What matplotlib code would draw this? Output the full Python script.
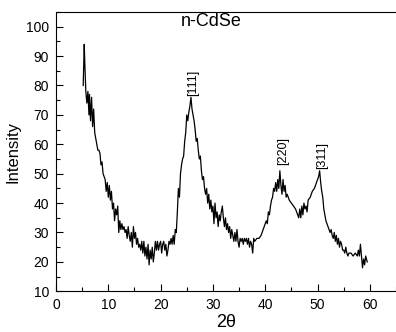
import matplotlib
matplotlib.use('Agg')
import matplotlib.pyplot as plt
from matplotlib.ticker import MultipleLocator

plt.rcParams['font.family'] = ['Liberation Sans', 'DejaVu Sans']

# XRD pattern (2theta, intensity)
two_theta = [5.2, 5.4, 5.5, 5.7, 5.9, 6.1, 6.3, 6.4, 6.6, 6.8, 7.0, 7.2, 7.4, 7.6, 7.8,
             8.0, 8.2, 8.4, 8.6, 8.8, 9.0, 9.2, 9.4, 9.6, 9.8, 10.0, 10.2, 10.4, 10.6, 10.8,
             11.0, 11.2, 11.4, 11.6, 11.8, 12.0, 12.2, 12.4, 12.6, 12.8, 13.0, 13.2, 13.4, 13.6, 13.8,
             14.0, 14.2, 14.4, 14.6, 14.8, 15.0, 15.2, 15.4, 15.6, 15.8, 16.0, 16.2, 16.4, 16.6, 16.8,
             17.0, 17.2, 17.4, 17.6, 17.8, 18.0, 18.2, 18.4, 18.6, 18.8, 19.0, 19.2, 19.4, 19.6, 19.8,
             20.0, 20.2, 20.4, 20.6, 20.8, 21.0, 21.2, 21.4, 21.6, 21.8, 22.0, 22.2, 22.4, 22.6, 22.8,
             23.0, 23.2, 23.4, 23.6, 23.8, 24.0, 24.2, 24.4, 24.6, 24.8, 25.0, 25.2, 25.4, 25.6, 25.8,
             26.0, 26.2, 26.4, 26.6, 26.8, 27.0, 27.2, 27.4, 27.6, 27.8, 28.0, 28.2, 28.4, 28.6, 28.8,
             29.0, 29.2, 29.4, 29.6, 29.8, 30.0, 30.2, 30.4, 30.6, 30.8, 31.0, 31.2, 31.4, 31.6, 31.8,
             32.0, 32.2, 32.4, 32.6, 32.8, 33.0, 33.2, 33.4, 33.6, 33.8, 34.0, 34.2, 34.4, 34.6, 34.8,
             35.0, 35.2, 35.4, 35.6, 35.8, 36.0, 36.2, 36.4, 36.6, 36.8, 37.0, 37.2, 37.4, 37.6, 37.8,
             38.0, 38.4, 38.8, 39.2, 39.6, 40.0, 40.2, 40.4, 40.6, 40.8, 41.0, 41.2, 41.4, 41.6, 41.8,
             42.0, 42.2, 42.4, 42.6, 42.8, 43.0, 43.2, 43.4, 43.6, 43.8, 44.0, 44.2, 44.6, 45.0, 45.4,
             45.8, 46.2, 46.4, 46.6, 46.8, 47.0, 47.2, 47.4, 47.6, 47.8, 48.0, 48.2, 48.6, 49.0, 49.4,
             49.8, 50.0, 50.2, 50.4, 50.6, 50.8, 51.0, 51.2, 51.4, 51.6, 51.8, 52.0, 52.2, 52.4, 52.6,
             52.8, 53.0, 53.2, 53.4, 53.6, 53.8, 54.0, 54.2, 54.4, 54.6, 54.8, 55.0, 55.2, 55.4, 55.6,
             55.8, 56.0, 56.4, 56.8, 57.2, 57.6, 57.8, 58.0, 58.2, 58.4, 58.6, 58.8, 59.0, 59.2, 59.5]
intensity = [80, 94, 88, 78, 74, 78, 70, 77, 68, 76, 66, 72, 64, 62, 60,
             58, 58, 57, 53, 54, 50, 49, 48, 44, 47, 42, 46, 41, 44, 38,
             40, 34, 38, 36, 39, 30, 34, 31, 33, 31, 32, 30, 31, 28, 32,
             29, 27, 30, 25, 32, 28, 30, 26, 28, 25, 26, 24, 27, 23, 27,
             22, 25, 21, 26, 19, 24, 21, 25, 20, 23, 27, 24, 27, 24, 26,
             27, 23, 26, 27, 24, 26, 22, 24, 27, 26, 28, 26, 29, 26, 31,
             30, 37, 45, 42, 50, 53, 55, 56, 61, 64, 70, 68, 71, 73, 76,
             72, 70, 68, 65, 61, 62, 58, 55, 56, 51, 48, 49, 45, 43, 45,
             40, 43, 38, 41, 37, 39, 33, 40, 35, 37, 32, 36, 34, 37, 39,
             35, 32, 35, 31, 33, 30, 32, 28, 31, 29, 27, 30, 27, 31, 27,
             25, 28, 27, 28, 26, 28, 27, 28, 26, 28, 25, 27, 26, 23, 28,
             27, 28, 28, 29, 31, 33, 34, 33, 37, 36, 39, 41, 42, 45, 44,
             47, 44, 48, 45, 51, 46, 43, 48, 44, 46, 42, 43, 41, 40, 39,
             38, 36, 35, 38, 35, 39, 36, 40, 38, 39, 37, 41, 42, 44, 45,
             47, 48, 49, 51, 47, 44, 42, 38, 36, 34, 33, 32, 31, 30, 31,
             29, 28, 30, 27, 29, 26, 28, 25, 27, 26, 24, 24, 23, 25, 23,
             22, 23, 23, 22, 23, 22, 24, 22, 26, 22, 18, 21, 19, 22, 20]

peak_labels = ['[111]', '[220]', '[311]']
peak_x = [26.2, 43.4, 50.9]
peak_y = [76.5, 53.0, 51.5]

fig = plt.figure(figsize=(3.96, 3.32), dpi=100)
ax = fig.add_axes([0.1414, 0.1226, 0.8586, 0.8413])

ax.plot(two_theta, intensity, color='black', linewidth=0.9)

for lab, px, py in zip(peak_labels, peak_x, peak_y):
    ax.text(px, py, lab, rotation=90, ha='center', va='bottom', fontsize=9)

ax.text(29.6, 101.8, 'n-CdSe', ha='center', va='center', fontsize=13)

ax.set_xlim(0, 65)
ax.set_ylim(10, 105)
ax.xaxis.set_major_locator(MultipleLocator(10))
ax.xaxis.set_minor_locator(MultipleLocator(5))
ax.yaxis.set_major_locator(MultipleLocator(10))
ax.yaxis.set_minor_locator(MultipleLocator(5))
ax.set_xticks(range(0, 61, 10))
ax.tick_params(which='both', direction='in', labelsize=10, width=0.8)
ax.tick_params(which='major', length=5, pad=5)
ax.tick_params(which='minor', length=3)
ax.tick_params(top=False, right=False)
ax.spines['right'].set_visible(False)

ax.set_ylabel('Intensity', fontsize=12, labelpad=4)
ax.set_xlabel('2\u03b8', fontsize=13, labelpad=1)

fig.savefig('out.png', dpi=100)
